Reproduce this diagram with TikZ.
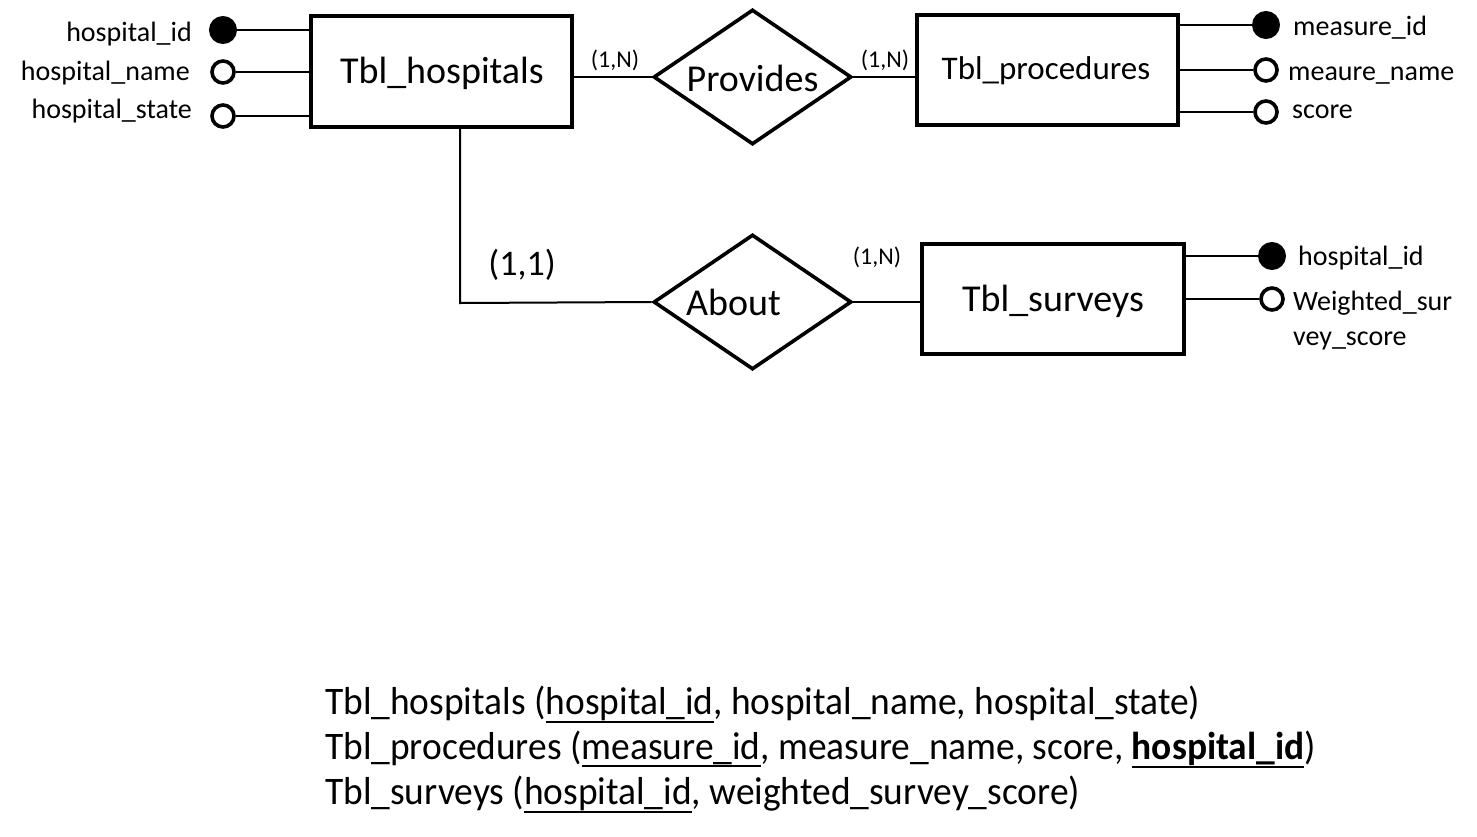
\documentclass[tikz,border=0pt]{standalone}
\usepackage{fontspec}
\setmainfont{Carlito}
\newfontfamily\schemafont[FakeStretch=0.96]{Carlito}
\usetikzlibrary{shapes.geometric}
\newcommand\myul[1]{\setbox0=\hbox{#1}\dimen0=\dp0 \advance\dimen0 by 3pt\rlap{\rule[-\dimen0]{\wd0}{2.4pt}}\box0}
\begin{document}
\begin{tikzpicture}[x=1pt,y=-1pt,
 ent/.style={draw, line width=4pt, inner sep=0pt},
 bigtxt/.style={inner sep=0pt, font=\fontsize{38}{44}\selectfont},
 rel/.style={draw, diamond, line width=3.6pt, inner sep=0pt, minimum width=198pt, minimum height=135pt},
 conn/.style={line width=2pt},
 keyat/.style={circle, fill=black, draw, line width=2pt, minimum size=26pt, inner sep=0pt},
 attr/.style={circle, fill=white, draw, line width=3.6pt, minimum size=22pt, inner sep=0pt},
 lbl/.style={inner sep=0pt, font=\fontsize{28}{32}\selectfont},
 card/.style={inner sep=0pt, font=\fontsize{24}{28}\selectfont},
 rel2/.style={inner sep=0pt, font=\schemafont\fontsize{39}{45}\selectfont},
]
\useasboundingbox (0,0) rectangle (1477,836);

% entities
\node[ent, minimum width=261pt, minimum height=111pt] (hosp) at (441.5,71.5) {};
\node[bigtxt] (hospt) at (442,73) {Tbl\_hospitals};
\node[ent, minimum width=261pt, minimum height=110pt] (proc) at (1047.5,70) {};
\node[bigtxt, font=\fontsize{33}{38}\selectfont] (proct) at (1046,71) {Tbl\_procedures};
\node[ent, minimum width=262pt, minimum height=110pt] (surv) at (1053,299) {};
\node[bigtxt] (survt) at (1053,301) {Tbl\_surveys};

% relationships
\node[rel] (prov) at (752.5,77) {};
\node[bigtxt] (provt) at (752.5,78) {Provides};
\node[rel] (about) at (752.5,302) {};
\node[bigtxt] (aboutt) at (733.5,302) {About};

% hospital attributes
\node[keyat] (ha1) at (223,30) {};
\node[attr] (ha2) at (223,72) {};
\node[attr] (ha3) at (223,116) {};
\node[lbl, anchor=mid east] (hl1) at (192,39) {hospital\_id};
\node[lbl, anchor=mid east] (hl2) at (190,78) {hospital\_name};
\node[lbl, anchor=mid east] (hl3) at (192,116) {hospital\_state};
\draw[conn] (ha1) -- (ha1 -| hosp.west);
\draw[conn] (ha2) -- (ha2 -| hosp.west);
\draw[conn] (ha3) -- (ha3 -| hosp.west);

% procedure attributes
\node[keyat] (pa1) at (1266,25) {};
\node[attr] (pa2) at (1266,70) {};
\node[attr] (pa3) at (1266,112) {};
\node[lbl, anchor=mid west] (pl1) at (1293,33) {measure\_id};
\node[lbl, anchor=mid west] (pl2) at (1288,78) {meaure\_name};
\node[lbl, anchor=mid west] (pl3) at (1292,116) {score};
\draw[conn] (pa1) -- (pa1 -| proc.east);
\draw[conn] (pa2) -- (pa2 -| proc.east);
\draw[conn] (pa3) -- (pa3 -| proc.east);

% survey attributes
\node[keyat] (sa1) at (1272,256) {};
\node[attr] (sa2) at (1272,299) {};
\node[lbl, anchor=mid west] (sl1) at (1298,263) {hospital\_id};
\node[lbl, anchor=mid west] (sl2) at (1293,308) {Weighted\_sur};
\node[lbl, anchor=mid west] (sl3) at (1293,343) {vey\_score};
\draw[conn] (sa1) -- (sa1 -| surv.east);
\draw[conn] (sa2) -- (sa2 -| surv.east);

% relationship connectors
\draw[conn] (prov.west) -- (prov.west -| hosp.east);
\draw[conn] (prov.east) -- (prov.east -| proc.west);
\coordinate (bend) at (460,303);
\draw[conn] (hosp.south -| bend) -- (bend) -- (about.west);
\draw[conn] (about.east) -- (about.east -| surv.west);

% cardinalities
\node[card] (c1) at (615,60) {(1,N)};
\node[card] (c2) at (885,60) {(1,N)};
\node[bigtxt, font=\fontsize{36}{40}\selectfont] (c3) at (522,265) {(1,1)};
\node[card] (c4) at (877,257) {(1,N)};

% relational schema
\node[rel2, anchor=base west] (r1) at (325,714) {Tbl\_hospitals (\myul{hospital\_id}, hospital\_name, hospital\_state)};
\node[rel2, anchor=base west] (r2) at (325,759) {Tbl\_procedures (\myul{measure\_id}, measure\_name, score, \myul{\textbf{hospital\_id}})};
\node[rel2, anchor=base west] (r3) at (325,804) {Tbl\_surveys (\myul{hospital\_id}, weighted\_survey\_score)};
\end{tikzpicture}
\end{document}
